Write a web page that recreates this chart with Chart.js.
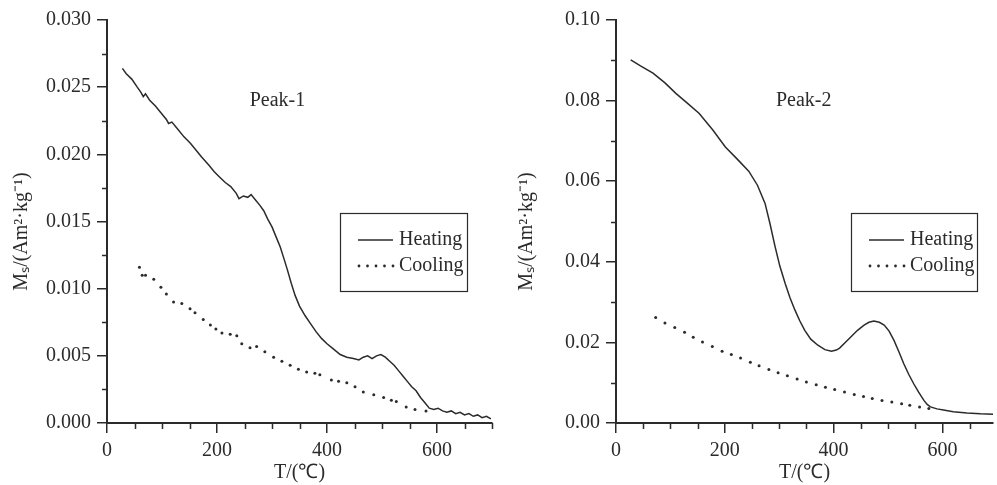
<!DOCTYPE html>
<html>
<head>
<meta charset="utf-8">
<script src="https://cdn.jsdelivr.net/npm/chart.js@4.4.0/dist/chart.umd.min.js"></script>
<style>
  body { margin: 0; background: #fff; }
  #wrap { position: relative; width: 997px; height: 485px; overflow: hidden; }
  canvas { position: absolute; top: 0; }
</style>
</head>
<body>
<div id="wrap">
  <canvas id="peak1" width="500" height="485" style="left:0"></canvas>
  <canvas id="peak2" width="492" height="485" style="left:505px"></canvas>
</div>
<script>
// ---- data ----
var tempTicks = [0, 200, 400, 600];
var peak1YTicks = [0, 0.005, 0.010, 0.015, 0.020, 0.025, 0.030];
var peak2YTicks = [0, 0.02, 0.04, 0.06, 0.08, 0.10];

var peak1HeatT = [28, 35, 45, 55, 62, 66, 70, 78, 88, 98, 108, 112, 118, 128, 140, 152, 162, 172, 185, 195,
  205, 215, 225, 235, 240, 248, 256, 262, 270, 278, 285, 292, 300, 308, 315, 322, 328, 335, 342, 350,
  360, 370, 380, 390, 400, 412, 424, 436, 448, 458, 466, 474, 482, 490, 498, 506, 514, 522, 530, 538,
  546, 554, 562, 570, 578, 586, 594, 602, 610, 618, 626, 634, 642, 650, 658, 666, 674, 682, 690, 698];
var peak1HeatMs = [0.0264, 0.0260, 0.0256, 0.0250, 0.0246, 0.0243, 0.0245, 0.0240, 0.0236, 0.0231,
  0.0226, 0.0223, 0.0224, 0.0219, 0.0213, 0.0208, 0.0203, 0.0198, 0.0192, 0.0187,
  0.0183, 0.0179, 0.0176, 0.0171, 0.0167, 0.0169, 0.0168, 0.0170, 0.0166, 0.0162,
  0.0158, 0.0152, 0.0146, 0.0138, 0.0131, 0.0122, 0.0114, 0.0104, 0.0095, 0.0087,
  0.0080, 0.0074, 0.0068, 0.0063, 0.0059, 0.0055, 0.0051, 0.0049, 0.0048, 0.0047,
  0.0049, 0.0050, 0.0048, 0.0050, 0.0051, 0.0049, 0.0046, 0.0043, 0.0039, 0.0035,
  0.0031, 0.0027, 0.0024, 0.0019, 0.0015, 0.0011, 0.0010, 0.0011, 0.0009, 0.0008,
  0.0009, 0.0007, 0.0008, 0.0006, 0.0007, 0.0005, 0.0006, 0.0004, 0.0005, 0.0003];

var peak1CoolT = [59, 64, 70, 85, 98, 108, 121, 136, 151, 160, 175, 188, 198, 209, 224, 236, 245, 260, 272, 287,
  303, 318, 333, 348, 363, 378, 387, 408, 421, 436, 451, 466, 485, 503, 517, 526, 544, 560, 580];
var peak1CoolMs = [0.0116, 0.0110, 0.0110, 0.0107, 0.0101, 0.0096, 0.0090, 0.0089, 0.0085, 0.0082,
  0.0077, 0.0073, 0.0070, 0.0067, 0.0066, 0.0065, 0.0059, 0.0056, 0.0057, 0.0053,
  0.0049, 0.0046, 0.0043, 0.0040, 0.0038, 0.0037, 0.0036, 0.0032, 0.0031, 0.0030,
  0.0027, 0.0023, 0.0021, 0.0019, 0.0017, 0.0016, 0.0012, 0.0010, 0.0009];

var peak2HeatT = [27, 45, 68, 90, 110, 130, 153, 178, 201, 222, 244, 260, 274, 283, 292, 301, 311, 320, 329, 338,
  347, 358, 371, 384, 396, 405, 411, 420, 432, 444, 456, 465, 474, 484, 493, 502, 511, 520, 529, 538,
  547, 556, 566, 572, 578, 590, 602, 620, 645, 670, 693];
var peak2HeatMs = [0.0901, 0.0886, 0.0868, 0.0844, 0.0818, 0.0795, 0.0768, 0.0727, 0.0685, 0.0656,
  0.0625, 0.0590, 0.0545, 0.0495, 0.0440, 0.0390, 0.0346, 0.0310, 0.0280, 0.0253,
  0.0230, 0.0208, 0.0193, 0.0182, 0.0178, 0.0181, 0.0186, 0.0198, 0.0214, 0.0230,
  0.0243, 0.0250, 0.0253, 0.0250, 0.0243, 0.0228, 0.0205, 0.0177, 0.0147, 0.0121,
  0.0098, 0.0077, 0.0056, 0.0046, 0.0040, 0.0035, 0.0032, 0.0028, 0.0025, 0.0023, 0.0022];

var peak2CoolT = [73, 90, 108, 126, 142, 159, 177, 195, 212, 229, 247, 263, 281, 298, 315, 333, 350, 368, 385, 402,
  420, 438, 455, 471, 489, 507, 525, 540, 558, 575];
var peak2CoolMs = [0.0262, 0.0248, 0.0237, 0.0225, 0.0213, 0.0201, 0.0190, 0.0178, 0.0170, 0.0161,
  0.0151, 0.0142, 0.0133, 0.0125, 0.0117, 0.0109, 0.0102, 0.0095, 0.0089, 0.0083,
  0.0077, 0.0071, 0.0066, 0.0061, 0.0056, 0.0052, 0.0048, 0.0044, 0.0040, 0.0036];

var SERIF = '"Liberation Serif", "Times New Roman", serif';
var INK = '#2b2b2b';

function pairs(xs, ys) {
  return xs.map(function (x, i) { return { x: x, y: ys[i] }; });
}

// short minor ticks outside the axes
var minorTicks = {
  id: 'minorTicks',
  afterDraw: function (chart, args, opts) {
    var ctx = chart.ctx, a = chart.chartArea;
    var xs = chart.scales.x, ys = chart.scales.y;
    ctx.save();
    ctx.strokeStyle = INK;
    ctx.lineWidth = 1.5;
    ctx.beginPath();
    for (var v = opts.xStep; v <= xs.max + 1e-9; v += opts.xStep) {
      if (tempTicks.indexOf(Math.round(v)) >= 0) continue;
      var px = Math.round(xs.getPixelForValue(v)) + 0.5;
      ctx.moveTo(px, a.bottom);
      ctx.lineTo(px, a.bottom + 6);
    }
    for (var k = 1; k * opts.yStep <= ys.max + 1e-9; k += 2) {
      var py = Math.round(ys.getPixelForValue(k * opts.yStep)) + 0.5;
      ctx.moveTo(a.left, py);
      ctx.lineTo(a.left - 5, py);
    }
    ctx.stroke();
    ctx.restore();
  }
};

// boxed legend placed inside the plot
var boxLegend = {
  id: 'boxLegend',
  afterDraw: function (chart, args, opts) {
    var ctx = chart.ctx;
    var sets = chart.data.datasets;
    ctx.save();
    ctx.strokeStyle = INK;
    ctx.lineWidth = 1.2;
    ctx.strokeRect(opts.x + 0.5, opts.y + 0.5, opts.w, opts.h);
    ctx.font = '20px ' + SERIF;
    ctx.fillStyle = INK;
    ctx.textBaseline = 'middle';
    sets.forEach(function (ds, i) {
      var cy = opts.y + 27 + i * 26;
      if (ds.showLine) {
        ctx.lineWidth = 1.3;
        ctx.beginPath();
        ctx.moveTo(opts.x + 18, cy);
        ctx.lineTo(opts.x + 53, cy);
        ctx.stroke();
      } else {
        for (var d = 0; d < 5; d++) {
          ctx.beginPath();
          ctx.arc(opts.x + 19 + d * 8.5, cy, 1.4, 0, Math.PI * 2);
          ctx.fill();
        }
      }
      ctx.fillText(ds.label, opts.x + 59, cy);
    });
    ctx.restore();
  }
};

var peakLabel = {
  id: 'peakLabel',
  afterDraw: function (chart, args, opts) {
    var ctx = chart.ctx;
    ctx.save();
    ctx.font = '20px ' + SERIF;
    ctx.fillStyle = INK;
    ctx.textAlign = 'center';
    ctx.textBaseline = 'middle';
    ctx.fillText(opts.text, chart.scales.x.getPixelForValue(opts.x), chart.scales.y.getPixelForValue(opts.y));
    ctx.restore();
  }
};

function makeChart(id, cfg) {
  var tickFont = { family: SERIF, size: 20 };
  return new Chart(id, {
    type: 'scatter',
    data: {
      datasets: [
        { label: 'Heating', data: pairs(cfg.heatT, cfg.heatMs), showLine: true, borderColor: INK,
          borderWidth: 1.5, pointRadius: 0, tension: 0 },
        { label: 'Cooling', data: pairs(cfg.coolT, cfg.coolMs), showLine: false, pointRadius: 1.5,
          backgroundColor: INK, borderWidth: 0 }
      ]
    },
    plugins: [minorTicks, boxLegend, peakLabel],
    options: {
      responsive: false,
      animation: false,
      layout: { padding: { top: 20, right: cfg.padRight, left: 0, bottom: 0 } },
      plugins: {
        legend: { display: false },
        tooltip: { enabled: false },
        minorTicks: { xStep: 50, yStep: cfg.yMinor },
        boxLegend: cfg.legendBox,
        peakLabel: cfg.peak
      },
      scales: {
        x: {
          type: 'linear', min: 0, max: cfg.xMax,
          afterFit: function (s) { s.height = 62; },
          afterBuildTicks: function (s) { s.ticks = tempTicks.map(function (v) { return { value: v }; }); },
          ticks: { font: tickFont, color: INK, padding: 6, maxRotation: 0 },
          grid: { drawOnChartArea: false, tickLength: 10, color: INK, lineWidth: 1.5 },
          border: { color: INK, width: 2 },
          title: { display: true, text: 'T/(℃)', font: tickFont, color: INK, padding: { top: 6, bottom: 0 } }
        },
        y: {
          type: 'linear', min: 0, max: cfg.yMax,
          afterFit: function (s) { s.width = cfg.yWidth; },
          afterBuildTicks: function (s) { s.ticks = cfg.yTicks.map(function (v) { return { value: v }; }); },
          ticks: { font: tickFont, color: INK, padding: 6,
            callback: function (v) { return v.toFixed(cfg.yDigits); } },
          grid: { drawOnChartArea: false, tickLength: 10, color: INK, lineWidth: 1.5 },
          border: { color: INK, width: 2 },
          title: { display: true, text: 'Mₛ/(Am²·kg⁻¹)\u00a0\u00a0\u00a0\u00a0', font: tickFont, color: INK,
            padding: { top: 10, bottom: 0 } }
        }
      }
    }
  });
}

makeChart('peak1', {
  heatT: peak1HeatT, heatMs: peak1HeatMs, coolT: peak1CoolT, coolMs: peak1CoolMs,
  xMax: 700, yMax: 0.030, yTicks: peak1YTicks, yDigits: 3, yMinor: 0.0025, yWidth: 107, padRight: 8,
  legendBox: { x: 340, y: 213, w: 127, h: 78 },
  peak: { text: 'Peak-1', x: 310, y: 0.0240 }
});

makeChart('peak2', {
  heatT: peak2HeatT, heatMs: peak2HeatMs, coolT: peak2CoolT, coolMs: peak2CoolMs,
  xMax: 693, yMax: 0.10, yTicks: peak2YTicks, yDigits: 2, yMinor: 0.01, yWidth: 111, padRight: 0,
  legendBox: { x: 346, y: 213, w: 126, h: 78 },
  peak: { text: 'Peak-2', x: 345, y: 0.080 }
});
</script>
</body>
</html>
